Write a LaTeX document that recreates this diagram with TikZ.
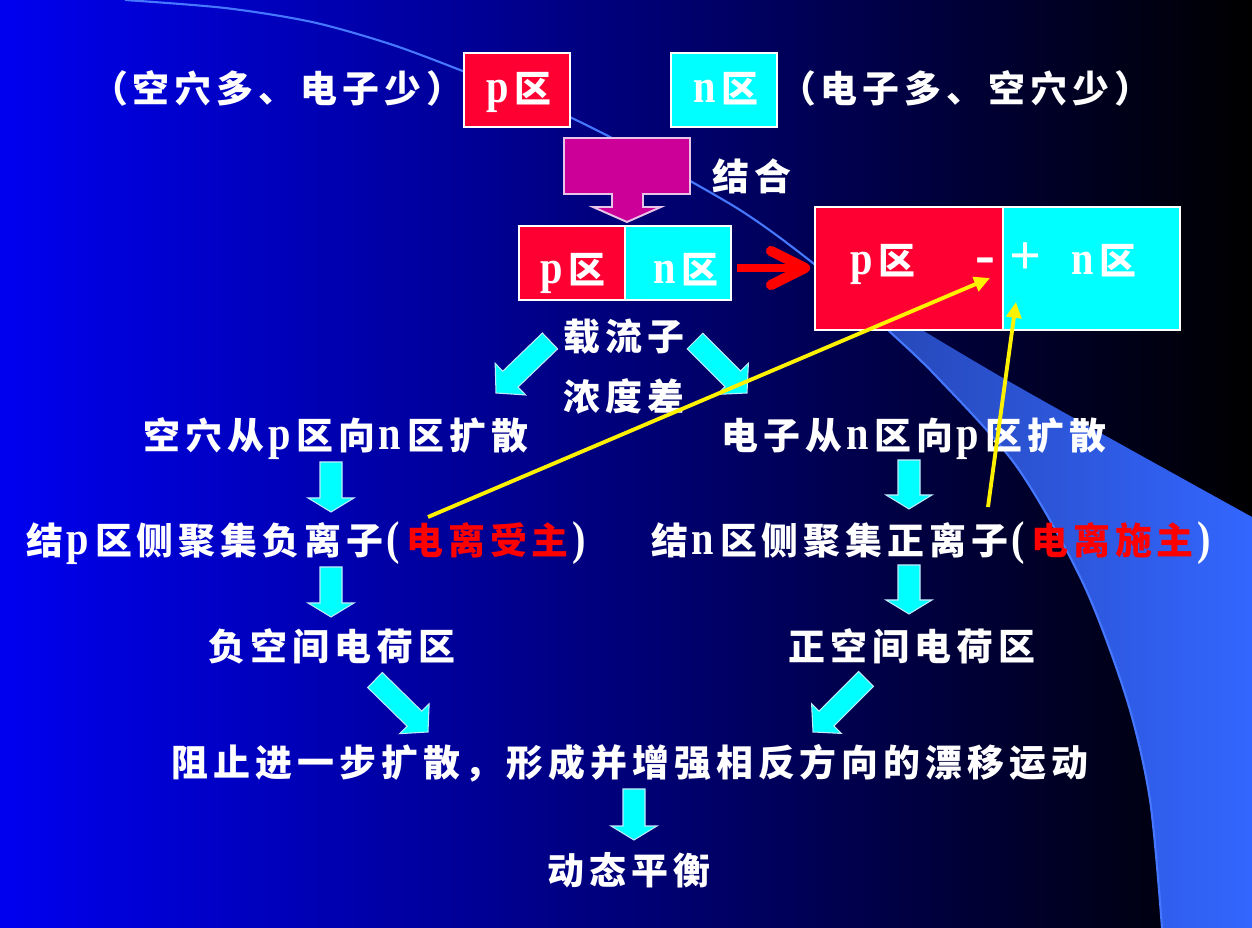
\documentclass[tikz,border=0pt]{standalone}
\usepackage{fontspec}
\setmainfont{Liberation Serif}
\newfontfamily\cjk{Noto Sans CJK SC}[LetterSpace=13.5]
\newfontfamily\latn{Liberation Serif}[FakeStretch=0.85]
\newfontfamily\signs{Liberation Serif}
\usetikzlibrary{calc,arrows.meta}

% Latin letters inside the Chinese labels, with a little air around them
\newcommand\lt[1]{\kern2pt{\latn\bfseries\fontsize{27}{30}\selectfont #1}\kern3.5pt}

\definecolor{bgleft}{RGB}{0,0,240}
\definecolor{bgmid}{RGB}{0,0,185}
\definecolor{wedgedark}{RGB}{36,66,170}
\definecolor{wedgelight}{RGB}{51,102,255}
\definecolor{swline}{RGB}{70,120,255}
\definecolor{pred}{RGB}{255,0,51}
\definecolor{ncyan}{RGB}{0,255,255}
\definecolor{junction}{RGB}{204,0,153}
\definecolor{junctionedge}{RGB}{232,195,232}
\definecolor{ionred}{RGB}{255,0,0}
\definecolor{flowcyan}{RGB}{0,255,255}

\tikzset{
  lbl/.style={text=white, inner sep=0pt, text height=18pt, text depth=4pt,
    font=\cjk\bfseries\fontsize{21}{25}\selectfont},
  region/.style={draw=white, line width=0.6pt, inner sep=0pt},
  barrow/.style={fill=flowcyan, draw=white!75!cyan, line width=0.6pt},
  yarrow/.style={draw=yellow, line width=2.2pt, -{Triangle[length=9pt,width=8.5pt]}},
  redshaft/.style={draw=ionred, line width=4.6pt},
  redhead/.style={draw=ionred, line width=5.8pt, line cap=round, line join=round},
}

% block arrow from #1 to tip #2: half shaft width #3, half head width #4, head length #5
\newcommand\blockarrow[5]{%
  \coordinate (hb) at ($(#2)!#5!(#1)$);
  \filldraw[barrow] ($(#1)!#3!90:(#2)$) -- ($(hb)!#3!90:(#2)$) -- ($(hb)!#4!90:(#2)$)
    -- (#2) -- ($(hb)!#4!-90:(#2)$) -- ($(hb)!#3!-90:(#2)$) -- ($(#1)!#3!-90:(#2)$) -- cycle;
}

\begin{document}
\begin{tikzpicture}[x=0.02cm,y=-0.02cm]
\useasboundingbox (0,0) rectangle (1252,928);

% slide background
\shade[left color=bgleft, middle color=bgmid, right color=black] (0,0) rectangle (1252,928);

% decorative swoosh
\shade[left color=wedgedark, middle color=wedgelight, right color=wedgelight]
  plot[smooth] coordinates {(810,262) (1003,378) (1252,517)} -- (1252,928) -- (1162,928)
  -- plot[smooth] coordinates {(1162,928) (1150,800) (1127,700) (1083,583) (1017,467) (937,377) (888,330) (810,262)} -- cycle;
\draw[swline, line width=1.2pt] plot[smooth] coordinates {(125,0) (225,8) (312,22) (390,44) (460,70) (520,95) (576,120) (635,150) (692,182) (740,210) (783,240) (840,285) (888,330) (937,377) (1017,467) (1083,583) (1127,700) (1150,800) (1162,928)};

% separate p and n regions
\node[region, fill=pred, minimum width=2.12cm, minimum height=1.48cm, lbl] (pTop) at (517,90) {\lt{p}区};
\node[region, fill=ncyan, minimum width=2.12cm, minimum height=1.48cm, lbl] (nTop) at (724,90) {\lt{n}区};
\node[lbl] (pInfo) at (277,90) {（空穴多、电子少）};
\node[lbl] (nInfo) at (965,90) {（电子多、空穴少）};

% joining arrow
\coordinate (jTip) at (627,222);
\filldraw[fill=junction, draw=junctionedge, line width=1.1pt]
  (564,138) -- (690,138) -- (690,194) -- (643,194) -- (643,207) -- (661,207) -- (jTip)
  -- (593,207) -- (612,207) -- (612,194) -- (564,194) -- cycle;
\node[lbl] (join) at (752,178) {结合};

% pn junction just formed
\node[region, fill=pred, minimum width=2.12cm, minimum height=1.48cm] (pMid) at (572,263) {};
\node[region, fill=ncyan, minimum width=2.12cm, minimum height=1.48cm] (nMid) at (678,263) {};
\node[lbl] (pMidT) at (571,271) {\lt{p}区};
\node[lbl] (nMidT) at (684,271) {\lt{n}区};

% pn junction with space charge
\node[region, fill=pred, minimum width=3.76cm, minimum height=2.46cm] (pBig) at (909,268.5) {};
\node[region, fill=ncyan, minimum width=3.54cm, minimum height=2.46cm] (nBig) at (1091.5,268.5) {};
\node[lbl] (pBigT) at (881,262) {\lt{p}区};
\node[lbl] (minus) at (985,262) {{\signs\bfseries\fontsize{34}{36}\selectfont -}};
\node[lbl] (plus) at (1026,262) {{\signs\fontsize{32}{34}\selectfont +}};
\node[lbl] (nBigT) at (1102,262) {\lt{n}区};

% red arrow between the two junctions
\coordinate (ra1) at (737,268);
\coordinate (ra2) at (800,268);
\coordinate (rtip) at (805,268);
\coordinate (rh1) at (771,251);
\coordinate (rh2) at (771,285);
\draw[redshaft] (ra1) -- (ra2);
\draw[redhead] (rh1) -- (rtip) -- (rh2);

% carrier concentration difference
\node[lbl] (carr) at (624,338) {载流子};
\node[lbl] (conc) at (624,398) {浓度差};

% diffusion
\node[lbl] (holeDiff) at (336,437) {空穴从\lt{p}区向\lt{n}区扩散};
\node[lbl] (elecDiff) at (914,437) {电子从\lt{n}区向\lt{p}区扩散};
\node[lbl] (negIons) at (309,542) {结\lt{p}区侧聚集负离子\lt{(}\textcolor{ionred}{电离受主}\lt{)}};
\node[lbl] (posIons) at (934,542) {结\lt{n}区侧聚集正离子\lt{(}\textcolor{ionred}{电离施主}\lt{)}};
\node[lbl] (negSC) at (332,648) {负空间电荷区};
\node[lbl] (posSC) at (912,648) {正空间电荷区};
\node[lbl] (drift) at (630,764) {阻止进一步扩散，形成并增强相反方向的漂移运动};
\node[lbl] (equil) at (629,872) {动态平衡};

% flow arrows
\coordinate (d1s) at (550,341); \coordinate (d1e) at (496,393);
\coordinate (d2s) at (695,341); \coordinate (d2e) at (747,393);
\coordinate (a1s) at (331,462); \coordinate (a1e) at (331,512);
\coordinate (a2s) at (331,567); \coordinate (a2e) at (331,617);
\coordinate (a3s) at (909,460); \coordinate (a3e) at (909,509);
\coordinate (a4s) at (909,565); \coordinate (a4e) at (909,614);
\coordinate (d3s) at (375,680); \coordinate (d3e) at (428,732);
\coordinate (d4s) at (866,679); \coordinate (d4e) at (813,732);
\coordinate (a5s) at (634,789); \coordinate (a5e) at (634,840);
\blockarrow{d1s}{d1e}{0.22cm}{0.44cm}{0.4cm}
\blockarrow{d2s}{d2e}{0.22cm}{0.44cm}{0.4cm}
\blockarrow{a1s}{a1e}{0.22cm}{0.46cm}{0.28cm}
\blockarrow{a2s}{a2e}{0.22cm}{0.46cm}{0.28cm}
\blockarrow{a3s}{a3e}{0.22cm}{0.46cm}{0.28cm}
\blockarrow{a4s}{a4e}{0.22cm}{0.46cm}{0.28cm}
\blockarrow{d3s}{d3e}{0.21cm}{0.42cm}{0.38cm}
\blockarrow{d4s}{d4e}{0.21cm}{0.42cm}{0.38cm}
\blockarrow{a5s}{a5e}{0.22cm}{0.46cm}{0.28cm}

% ions pointing to the junction
\coordinate (ya1) at (428,517); \coordinate (ya2) at (990,278);
\coordinate (yb1) at (988,507); \coordinate (yb2) at (1016,302);
\draw[yarrow] (ya1) -- (ya2);
\draw[yarrow] (yb1) -- (yb2);
\end{tikzpicture}
\end{document}
